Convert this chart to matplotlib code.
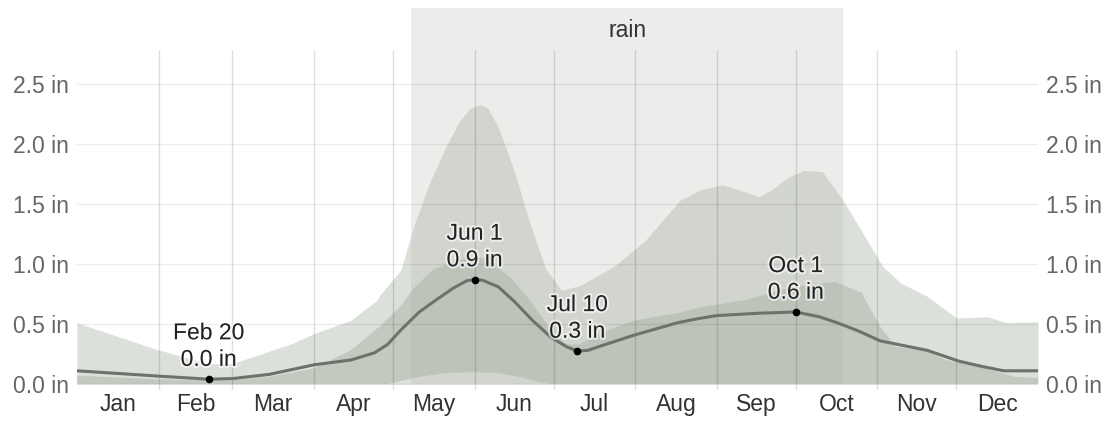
import numpy as np
import matplotlib
matplotlib.use('Agg')
import matplotlib.pyplot as plt
import matplotlib.patheffects as pe

plt.rcParams['font.family'] = ['Liberation Sans', 'DejaVu Sans']

# day of year (Jan 1 = 0)
month_names = ['Jan', 'Feb', 'Mar', 'Apr', 'May', 'Jun', 'Jul', 'Aug', 'Sep', 'Oct', 'Nov', 'Dec']
month_starts = [0, 31, 59, 90, 120, 151, 181, 212, 243, 273, 304, 334, 365]

# rainy season (May 8 - Oct 19)
rain_season = [127, 291]

# average rainfall over a sliding 31-day period (inches)
mean_days = [0, 30, 50, 59, 73, 90, 104, 113, 118, 123, 130, 137, 143, 148, 151, 154, 160,
             166, 173, 180, 186, 190, 194, 198, 205, 212, 220, 228, 236, 243, 259, 273, 282,
             290, 297, 305, 314, 323, 335, 344, 352, 365]
mean_vals = [0.11, 0.067, 0.04, 0.045, 0.08, 0.16, 0.20, 0.26, 0.33, 0.45, 0.60, 0.71, 0.80, 0.86, 0.87, 0.865, 0.81,
             0.69, 0.53, 0.39, 0.31, 0.275, 0.28, 0.31, 0.36, 0.41, 0.46, 0.51, 0.545, 0.57, 0.59, 0.60, 0.56,
             0.50, 0.44, 0.36, 0.32, 0.28, 0.19, 0.145, 0.11, 0.11]

# 90th percentile
p90_days = [0, 30, 50, 59, 82, 90, 104, 114, 115, 123, 128, 134, 140, 145, 149, 153, 156, 160, 166, 172,
            178, 184, 191, 204, 216, 229, 237, 245, 254, 259, 264, 270, 276, 283, 291, 300, 306, 313,
            323, 334, 346, 353, 365]
p90_vals = [0.51, 0.29, 0.17, 0.17, 0.34, 0.42, 0.53, 0.70, 0.74, 0.95, 1.32, 1.68, 1.97, 2.18, 2.29, 2.33, 2.30, 2.14, 1.78, 1.34,
            0.96, 0.78, 0.82, 0.98, 1.20, 1.53, 1.62, 1.66, 1.60, 1.56, 1.62, 1.72, 1.78, 1.77, 1.53, 1.20, 0.98, 0.84,
            0.73, 0.55, 0.56, 0.51, 0.52]

# 75th percentile
p75_days = [0, 30, 50, 59, 73, 90, 104, 115, 123, 128, 135, 145, 151, 156, 165, 172, 181, 186, 191, 198,
            212, 228, 237, 254, 272, 288, 298, 305, 311, 324, 330, 343, 356, 365]
p75_vals = [0.07, 0.04, 0.03, 0.03, 0.06, 0.13, 0.28, 0.48, 0.65, 0.80, 0.95, 1.04, 1.06, 1.04, 0.88, 0.70, 0.42, 0.33, 0.33, 0.42,
            0.53, 0.59, 0.64, 0.70, 0.81, 0.85, 0.76, 0.48, 0.31, 0.27, 0.20, 0.14, 0.06, 0.05]

# 25th percentile
p25_days = [0, 118, 122, 130, 140, 150, 160, 168, 175, 180, 365]
p25_vals = [0, 0, 0.02, 0.06, 0.09, 0.10, 0.09, 0.06, 0.02, 0, 0]

# highlighted points
marks = [(50, 0.04, 'Feb 20', '0.0 in'), (151, 0.87, 'Jun 1', '0.9 in'),
         (190, 0.275, 'Jul 10', '0.3 in'), (273, 0.60, 'Oct 1', '0.6 in')]

yticks = [0, 0.5, 1.0, 1.5, 2.0, 2.5]

W, H = 1113, 428
fig = plt.figure(figsize=(W / 100, H / 100), dpi=100)
left, right, top, bottom = 77, 1038, 8, 390
ax = fig.add_axes([left / W, 1 - bottom / H, (right - left) / W, (bottom - top) / H])
ax.set_xlim(0, 365)
ax.set_ylim(-0.05, (384 - 8) / 120)
for s in ax.spines.values():
    s.set_visible(False)

# rain season band
ax.axvspan(rain_season[0], rain_season[1], ymin=0.05 / (0.05 + 376 / 120), ymax=1,
           color='#ececea', lw=0, zorder=0)
ax.text((rain_season[0] + rain_season[1]) / 2, 3.133 - 22 / 120, 'rain', ha='center', va='center',
        fontsize=16.5, color='#333333', zorder=6)

band = '#a9b3a5'
ax.fill_between(p90_days, 0, p90_vals, color=band, alpha=0.4, lw=0, zorder=1)
ax.fill(np.concatenate([p75_days, p25_days[::-1]]), np.concatenate([p75_vals, p25_vals[::-1]]),
        color=band, alpha=0.5, lw=0, zorder=2)

# grid on top
for v in yticks:
    ax.axhline(v, color='black', alpha=0.07, lw=1, zorder=3)
ax.vlines(month_starts[1:-1], -0.05, (384 - 50) / 120, color='black', alpha=0.13, lw=1, zorder=3)

ax.plot(mean_days, mean_vals, color='#6b736a', lw=2.2, zorder=4, solid_capstyle='round',
        solid_joinstyle='round')

halo = [pe.withStroke(linewidth=3, foreground='white', alpha=0.6)]
for d, v, lab1, lab2 in marks:
    ax.plot(d, v, 'o', color='black', ms=4.5, zorder=5)
    ax.annotate(lab1 + '\n' + lab2, (d, v), xytext=(0, 6), textcoords='offset points',
                ha='center', va='bottom', fontsize=16.5, color='#222222', linespacing=1.2,
                path_effects=halo, zorder=6)

ax.set_yticks(yticks)
ax.set_yticklabels(['%.1f in' % v for v in yticks])
ax.tick_params(axis='y', length=0, labelsize=16.5, labelcolor='#666666', pad=6,
               labelleft=True, labelright=True)
mids = [(month_starts[i] + month_starts[i + 1]) / 2 for i in range(12)]
ax.set_xticks(mids)
ax.set_xticklabels(month_names)
ax.tick_params(axis='x', length=0, labelsize=16.5, labelcolor='#333333', pad=2)

fig.savefig('out.png', dpi=100)
